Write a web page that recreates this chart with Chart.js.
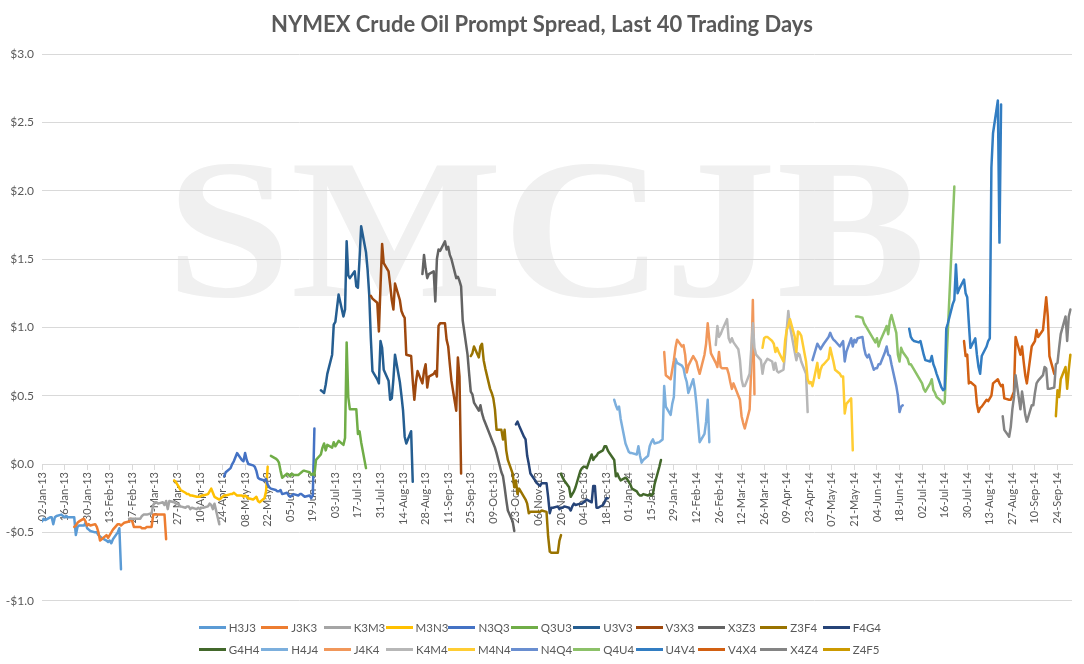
<!DOCTYPE html>
<html>
<head>
<meta charset="utf-8">
<script src="https://cdn.jsdelivr.net/npm/chart.js@4.4.1/dist/chart.umd.min.js"></script>
<style>
  body { margin: 0; background: #fff; }
  #wrap { position: relative; width: 1084px; height: 664px; font-family: Lato, "Open Sans", sans-serif; }
  #title { position: absolute; left: 0; top: 11px; width: 1084px; text-align: center;
           font-size: 22px; line-height: 26px; font-weight: bold; color: #595959; }
  #legend { position: absolute; left: 0; top: 616px; width: 1084px; }
  .row { display: flex; justify-content: center; height: 22px; }
  .item { display: flex; align-items: center; width: 62.4px; font-size: 11.5px; color: #595959; white-space: nowrap; }
  .swatch { display: inline-block; width: 27px; height: 3px; margin-right: 3px; }
</style>
</head>
<body>
<div id="wrap">
  <canvas id="spreadChart"></canvas>
  <div id="title">NYMEX Crude Oil Prompt Spread, Last 40 Trading Days</div>
  <div id="legend"></div>
</div>
<script>
// contract spreads, in legend order
var contracts = ["H3J3", "J3K3", "K3M3", "M3N3", "N3Q3", "Q3U3", "U3V3", "V3X3", "X3Z3", "Z3F4", "F4G4",
                 "G4H4", "H4J4", "J4K4", "K4M4", "M4N4", "N4Q4", "Q4U4", "U4V4", "V4X4", "X4Z4", "Z4F5"]

// first trading day shown for each spread (values below are one per weekday from here)
var startDates = ["2013-01-02", "2013-01-22", "2013-02-25", "2013-03-25", "2013-04-25", "2013-05-24",
                  "2013-06-24", "2013-07-25", "2013-08-26", "2013-09-25", "2013-10-23", "2013-11-20",
                  "2013-12-23", "2014-01-23", "2014-02-24", "2014-03-25", "2014-04-25", "2014-05-22",
                  "2014-06-24", "2014-07-28", "2014-08-21", "2014-09-23"]

// spread values, $/bbl
var h3j3 = [-0.42,-0.40,-0.41,-0.39,-0.39,-0.44,-0.39,-0.38,-0.37,-0.38,-0.39,-0.38,-0.39,-0.39,-0.39,-0.52,-0.46,-0.45,
            -0.45,-0.43,-0.47,-0.48,-0.49,-0.50,-0.50,-0.52,-0.53,-0.54,-0.56,-0.57,-0.56,-0.58,-0.55,-0.50,-0.47,-0.77]
var j3k3 = [-0.46,-0.45,-0.43,-0.42,-0.40,-0.42,-0.45,-0.44,-0.45,-0.44,-0.46,-0.50,-0.56,-0.55,-0.52,-0.54,-0.52,-0.50,
            -0.48,-0.44,-0.44,-0.45,-0.44,-0.43,-0.42,-0.40,-0.42,-0.46,-0.46,-0.46,-0.47,-0.47,-0.47,-0.46,-0.46,-0.37,
            -0.37,-0.37,-0.37,-0.37,-0.37,-0.55]
var k3m3 = [-0.40,-0.40,-0.40,-0.40,-0.40,-0.40,-0.38,-0.37,-0.37,-0.37,-0.36,-0.30,-0.28,-0.28,-0.29,-0.28,-0.30,-0.27,
            -0.33,-0.27,-0.28,-0.29,-0.29,-0.30,-0.31,-0.32,-0.31,-0.31,-0.33,-0.32,-0.33,-0.32,-0.33,-0.32,-0.32,-0.31,
            -0.29,-0.30,-0.33,-0.29,-0.44]
var m3n3 = [-0.12,-0.13,-0.15,-0.17,-0.19,-0.21,-0.22,-0.22,-0.23,-0.23,-0.24,-0.24,-0.24,-0.23,-0.23,-0.22,-0.20,-0.18,
            -0.21,-0.24,-0.26,-0.25,-0.24,-0.23,-0.23,-0.22,-0.22,-0.21,-0.22,-0.23,-0.23,-0.24,-0.23,-0.24,-0.25,-0.26,
            -0.25,-0.24,-0.27,-0.28,-0.25,-0.20,-0.02]
var n3q3 = [-0.09,-0.06,-0.03,0.00,0.02,0.05,0.08,0.03,0.02,0.08,0.03,0.00,-0.01,-0.02,-0.05,-0.10,-0.11,-0.12,
            -0.11,-0.15,-0.17,-0.18,-0.19,-0.20,-0.20,-0.19,-0.22,-0.21,-0.23,-0.24,-0.23,-0.22,-0.23,-0.22,-0.22,-0.23,
            -0.24,-0.23,-0.25,-0.23,0.26]
var q3u3 = [0.06,0.04,0.03,0.01,-0.05,-0.10,-0.07,-0.08,-0.09,-0.07,-0.08,-0.08,-0.07,-0.06,-0.05,-0.05,-0.06,-0.08,
            -0.07,-0.08,0.03,0.07,0.12,0.15,0.10,0.14,0.12,0.16,0.13,0.15,0.17,0.14,0.19,0.89,0.49,0.40,
            0.40,0.40,0.22,0.24,0.16,-0.03]
var u3v3 = [0.54,0.53,0.52,0.58,0.66,0.80,1.02,1.04,1.14,1.24,1.08,1.13,1.63,1.38,1.36,1.41,1.30,1.29,
            1.50,1.74,1.55,1.42,1.24,0.92,0.68,0.62,0.59,0.90,0.85,0.69,0.61,0.47,0.48,0.62,0.80,0.60,
            0.50,0.39,0.20,0.15,0.24,-0.13]
var v3x3 = [1.23,1.21,1.18,0.97,1.30,1.61,1.47,1.41,1.31,1.20,1.13,1.32,1.20,1.12,1.09,1.07,0.80,0.79,
            0.61,0.47,0.60,0.68,0.59,0.68,0.73,0.56,0.64,0.66,0.68,0.64,1.01,1.03,1.03,0.91,0.86,0.73,
            0.61,0.39,0.78,0.64,-0.07]
var x3z3 = [1.39,1.53,1.43,1.36,1.39,1.41,1.19,1.50,1.57,1.56,1.63,1.57,1.59,1.53,1.50,1.36,1.37,1.34,
            1.30,1.05,0.80,0.66,0.53,0.51,0.45,0.39,0.43,0.37,0.33,0.30,0.21,0.18,0.15,0.12,0.08,-0.06,
            -0.09,-0.17,-0.26,-0.34,-0.42,-0.49]
var z3f4 = [0.79,0.81,0.86,0.78,0.86,0.88,0.76,0.70,0.55,0.52,0.48,0.40,0.25,0.25,0.18,0.25,0.10,0.03,
            -0.07,-0.17,-0.12,-0.22,-0.18,-0.24,-0.26,-0.29,-0.36,-0.35,-0.35,-0.35,-0.35,-0.35,-0.34,-0.35,-0.53,-0.64,
            -0.65,-0.65,-0.65,-0.56,-0.52]
var f4g4 = [0.29,0.31,0.28,0.20,0.18,0.06,0.00,-0.07,-0.12,-0.14,-0.15,-0.16,-0.14,-0.14,-0.24,-0.36,-0.32,-0.32,
            -0.31,-0.33,-0.32,-0.32,-0.31,-0.32,-0.34,-0.31,-0.29,-0.30,-0.29,-0.29,-0.28,-0.27,-0.26,-0.28,-0.16,-0.16,
            -0.32,-0.32,-0.30,-0.28,-0.25,-0.25]
var g4h4 = [-0.07,-0.10,-0.12,-0.17,-0.24,-0.22,-0.20,-0.17,-0.05,-0.03,-0.02,-0.02,-0.03,0.07,0.03,0.05,0.06,0.08,
            0.10,0.13,0.13,0.10,0.08,0.03,-0.09,-0.07,-0.10,-0.12,-0.10,-0.11,-0.13,-0.15,-0.18,-0.20,-0.22,-0.23,
            -0.23,-0.22,-0.23,-0.22,-0.23,-0.22,-0.15,-0.02,0.03]
var h4j4 = [0.47,0.43,0.40,0.42,0.33,0.15,0.12,0.09,0.08,0.08,0.07,0.13,0.06,0.01,0.03,0.06,0.13,0.16,
            0.18,0.15,0.16,0.17,0.18,0.57,0.42,0.36,0.44,0.49,0.77,0.74,0.72,0.70,0.64,0.60,0.52,0.62,
            0.55,0.44,0.30,0.16,0.22,0.31,0.47,0.16]
var j4k4 = [0.82,0.65,0.62,0.69,0.76,0.85,0.91,0.86,0.87,0.80,0.67,0.72,0.79,0.77,0.75,0.70,0.66,0.80,
            0.88,1.03,0.91,0.81,0.74,0.71,0.82,0.71,0.70,0.70,0.66,0.60,0.55,0.59,0.50,0.47,0.35,0.30,
            0.26,0.40,0.70,1.20,0.51]
var k4m4 = [0.87,1.01,0.93,0.95,0.98,1.06,0.92,0.89,0.92,0.89,0.84,0.76,0.62,0.57,0.57,0.66,0.84,1.03,
            0.85,0.80,0.76,0.66,0.73,0.75,0.77,0.75,0.69,0.74,0.68,0.67,0.69,0.81,0.98,1.12,1.01,0.82,
            0.76,0.81,0.80,0.75,0.66,0.38]
var m4n4 = [0.85,0.92,0.93,0.93,0.90,0.88,0.82,0.85,0.82,0.75,0.90,0.98,1.01,1.06,0.93,0.82,0.97,0.96,
            0.94,0.75,0.62,0.59,0.60,0.57,0.74,0.63,0.69,0.72,0.73,0.77,0.85,0.80,0.75,0.69,0.66,0.64,
            0.64,0.37,0.44,0.48,0.10]
var n4q4 = [0.76,0.88,0.86,0.84,0.86,0.88,0.93,0.96,0.93,0.91,0.90,0.86,0.88,0.90,0.75,0.82,0.92,0.86,
            0.91,0.89,0.92,0.93,0.85,0.80,0.78,0.80,0.69,0.70,0.70,0.73,0.73,0.82,0.86,0.80,0.79,0.73,
            0.57,0.50,0.38,0.42,0.43]
var q4u4 = [1.08,1.08,1.07,1.03,1.01,0.99,0.97,0.91,0.89,0.92,0.86,0.90,0.98,1.01,0.95,1.05,1.09,0.96,
            0.80,0.75,0.85,0.82,0.77,0.73,0.73,0.71,0.69,0.63,0.61,0.59,0.55,0.53,0.59,0.62,0.54,0.52,
            0.49,0.46,0.44,0.45,null,null,null,2.03]
var u4v4 = [0.99,0.93,0.91,0.90,0.89,0.90,0.85,0.80,0.76,0.75,0.79,0.73,0.70,0.66,0.56,0.54,0.55,0.99,
            1.03,1.17,1.20,1.46,1.25,1.28,1.35,1.25,1.22,1.03,0.85,0.92,0.80,0.71,0.66,0.79,0.86,0.90,
            0.92,2.17,2.42,2.66,1.62,2.63]
var v4x4 = [0.90,0.79,0.80,0.59,0.60,0.57,0.44,0.38,0.41,0.42,0.47,0.46,0.48,0.50,0.59,0.62,0.59,0.57,
            0.58,0.48,0.47,0.47,0.50,0.53,0.93,0.80,0.86,0.75,0.65,0.59,0.86,0.88,0.90,0.98,0.93,0.98,
            1.10,1.22,1.08,0.79,0.66]
var x4z4 = [0.35,0.25,0.20,0.27,0.40,0.49,0.65,0.40,0.53,0.45,0.36,0.31,0.43,0.43,0.52,0.59,0.61,0.65,
            0.71,0.70,0.55,0.55,0.56,0.73,0.74,0.85,0.95,1.08,0.90,1.08,1.13]
var z4f5 = [0.35,0.54,0.49,0.62,0.71,0.55,0.69,0.80]

var spreadValues = [h3j3, j3k3, k3m3, m3n3, n3q3, q3u3, u3v3, v3x3, x3z3, z3f4, f4g4,
                    g4h4, h4j4, j4k4, k4m4, m4n4, n4q4, q4u4, u4v4, v4x4, x4z4, z4f5]

var lineColors = ["#5B9BD5", "#ED7D31", "#A5A5A5", "#FFC000", "#4472C4", "#70AD47", "#255E91", "#9E480E",
                  "#636363", "#997300", "#264478", "#43682B", "#7CAFDD", "#F1975A", "#B7B7B7", "#FFCD33",
                  "#698ED0", "#8CC168", "#327DC2", "#D26012", "#848484", "#CC9A00"]

var months = ["Jan", "Feb", "Mar", "Apr", "May", "Jun", "Jul", "Aug", "Sep", "Oct", "Nov", "Dec"]

// x axis is days since 02-Jan-13, labelled every two weeks
var DAY = 86400000
var origin = Date.UTC(2013, 0, 2)
var axisEndDay = 639
var tickDays = []
for (var t = 0; t <= 630; t += 14) tickDays.push(t)

function dayIndex(iso) {
    var p = iso.split('-').map(Number)
    return Math.round((Date.UTC(p[0], p[1] - 1, p[2]) - origin) / DAY)
}

function weekdaysFrom(iso, n) {
    var out = []
    var d = dayIndex(iso)
    while (out.length < n) {
        var wd = new Date(origin + d * DAY).getUTCDay()
        if (wd !== 0 && wd !== 6) out.push(d)
        d++
    }
    return out
}

function dateLabel(d) {
    var dt = new Date(origin + d * DAY)
    var dd = String(dt.getUTCDate()).padStart(2, '0')
    return dd + '-' + months[dt.getUTCMonth()] + '-' + String(dt.getUTCFullYear()).slice(2)
}

function dollarLabel(v) {
    var s = '$' + Math.abs(v).toFixed(1)
    return v < 0 ? '-' + s : s
}

var datasets = contracts.map(function (name, i) {
    var vals = spreadValues[i]
    var days = weekdaysFrom(startDates[i], vals.length)
    return {
        label: name,
        data: vals.map(function (v, j) { return { x: days[j], y: v } }),
        borderColor: lineColors[i],
        backgroundColor: lineColors[i],
        borderWidth: 2.5,
        borderJoinStyle: 'round',
        borderCapStyle: 'round',
        pointRadius: 0,
        spanGaps: true,
        fill: false,
        order: contracts.length - i
    }
})

// faint SMCJB mark behind the plot
var watermark = {
    id: 'watermark',
    beforeDraw: function (chart) {
        var c = chart.ctx
        c.save()
        c.font = 'bold 200px "Liberation Serif", serif'
        c.fillStyle = '#f0f0f0'
        var w = c.measureText('SMCJB').width
        c.translate(166, 296)
        c.scale(760 / w, 1)
        c.fillText('SMCJB', 0, 0)
        c.restore()
    }
}

Chart.defaults.font.family = 'Lato, "Open Sans", sans-serif'
Chart.defaults.color = '#595959'

var ctx = document.getElementById('spreadChart').getContext('2d')
var spreadChart = new Chart(ctx, {
    type: 'line',
    data: { datasets: datasets },
    plugins: [watermark],
    options: {
        responsive: true,
        maintainAspectRatio: false,
        animation: false,
        layout: { padding: { top: 54, right: 12, bottom: 63.3, left: 0 } },
        plugins: {
            legend: { display: false },
            title: { display: false },
            tooltip: { enabled: false }
        },
        scales: {
            x: {
                type: 'linear',
                min: 0,
                max: axisEndDay,
                position: { y: 0 },
                afterBuildTicks: function (scale) {
                    scale.ticks = tickDays.map(function (v) { return { value: v } })
                },
                ticks: {
                    autoSkip: false,
                    maxRotation: 90,
                    minRotation: 90,
                    padding: 3,
                    font: { size: 11 },
                    color: '#595959',
                    callback: function (v) { return dateLabel(v) }
                },
                grid: { drawOnChartArea: false, drawTicks: true, tickLength: 5, color: '#d9d9d9' },
                border: { display: true, color: '#d9d9d9' }
            },
            y: {
                min: -1,
                max: 3,
                afterFit: function (scale) { scale.width = 42 },
                ticks: {
                    stepSize: 0.5,
                    padding: 8,
                    font: { size: 12 },
                    color: '#595959',
                    callback: function (v) { return dollarLabel(v) }
                },
                grid: { color: '#d9d9d9', drawTicks: false },
                border: { display: false }
            }
        }
    }
})

// two-row legend below the plot
var legend = document.getElementById('legend')
var perRow = 11
for (var r = 0; r < contracts.length; r += perRow) {
    var row = document.createElement('div')
    row.className = 'row'
    contracts.slice(r, r + perRow).forEach(function (name, k) {
        var item = document.createElement('div')
        item.className = 'item'
        var sw = document.createElement('span')
        sw.className = 'swatch'
        sw.style.background = lineColors[r + k]
        item.appendChild(sw)
        item.appendChild(document.createTextNode(name))
        row.appendChild(item)
    })
    legend.appendChild(row)
}
</script>
</body>
</html>
